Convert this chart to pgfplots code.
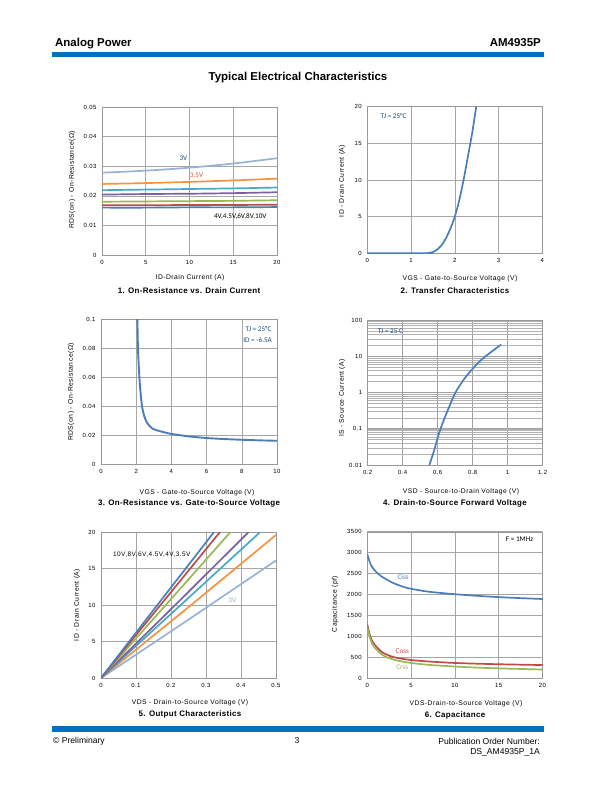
\documentclass[border=0pt]{standalone}
\usepackage{fontspec}
\setmainfont{Liberation Sans}
\newfontfamily\calfont{Carlito}
\newfontfamily\labfont{Liberation Sans}[LetterSpace=7]
\newfontfamily\titfont{Liberation Sans}[LetterSpace=4]
\usepackage{pgfplots}
\pgfplotsset{compat=1.18}
\definecolor{cblue}{HTML}{4A7EBB}
\definecolor{cred}{HTML}{BE4B48}
\definecolor{cgreen}{HTML}{98B954}
\definecolor{cpurple}{HTML}{7D60A0}
\definecolor{caqua}{HTML}{46AAC5}
\definecolor{corange}{HTML}{F69240}
\definecolor{clblue}{HTML}{95B3D7}
\definecolor{barblue}{HTML}{0070C0}
\definecolor{navy}{HTML}{1F497D}
\pgfplotsset{ds/.style={scale only axis, anchor=south west,
  axis line style={draw=gray!80}, grid=major,
  major grid style={draw=gray!70, line width=0.6pt},
  major tick length=0pt, minor tick length=0pt,
  tick label style={font=\labfont\fontsize{6}{7}\selectfont},
  xticklabel style={yshift=-1.5bp}, yticklabel style={xshift=-2bp},
  scaled ticks=false,
  /pgf/number format/assume math mode=true,
  /pgf/number format/1000 sep={},
  every axis plot/.append style={line width=1.7pt, no markers}}}
\newcommand\tlab{\labfont\fontsize{6.8}{8}\selectfont}
\newcommand\ttit{\titfont\bfseries\fontsize{8}{9}\selectfont}
\newcommand\ann{\calfont\fontsize{7.2}{8}\selectfont}
\begin{document}
\begin{tikzpicture}
\fill[white] (0,0) rectangle (612bp,-792bp);
% header
\node[anchor=base west, font=\bfseries\fontsize{11.5}{13}\selectfont, inner sep=0] at (55bp,-46bp) {Analog Power};
\node[anchor=base east, font=\bfseries\fontsize{11.5}{13}\selectfont, inner sep=0] at (541bp,-46bp) {AM4935P};
\fill[barblue] (52bp,-52bp) rectangle (544bp,-56.5bp);
\node[font=\bfseries\fontsize{11.5}{13}\selectfont] at (298bp,-78bp) {Typical Electrical Characteristics};
% footer
\fill[barblue] (52bp,-726bp) rectangle (544bp,-731.7bp);
\node[anchor=west, font=\fontsize{8.6}{10}\selectfont, inner sep=0] at (53bp,-741bp) {© Preliminary};
\node[font=\fontsize{8.6}{10}\selectfont, inner sep=0] at (297bp,-741bp) {3};
\node[anchor=east, font=\fontsize{8.6}{10}\selectfont, inner sep=0] at (540bp,-741bp) {Publication Order Number:};
\node[anchor=east, font=\fontsize{8.6}{10}\selectfont, inner sep=0] at (540bp,-752bp) {DS\_AM4935P\_1A};

% ---------- Chart 1
\begin{axis}[ds, at={(102bp,-255bp)}, width=175bp, height=148bp,
  xmin=0, xmax=20, ymin=0, ymax=0.05, xtick={0,5,10,15,20},
  ytick={0,0.01,0.02,0.03,0.04,0.05}, yticklabels={0,0.01,0.02,0.03,0.04,0.05}]
\addplot[clblue, smooth] coordinates {(0,0.0278)(5,0.0285)(10,0.0295)(15,0.0309)(20,0.0327)};
\addplot[corange, smooth] coordinates {(0,0.0240)(5,0.0243)(10,0.0247)(15,0.0252)(20,0.0258)};
\addplot[caqua, smooth] coordinates {(0,0.0219)(5,0.0221)(10,0.0223)(15,0.0225)(20,0.0228)};
\addplot[cpurple, smooth] coordinates {(0,0.0204)(5,0.0206)(10,0.0207)(15,0.0209)(20,0.0212)};
\addplot[cgreen, smooth] coordinates {(0,0.0180)(5,0.0181)(10,0.0182)(15,0.0183)(20,0.0185)};
\addplot[cred, smooth] coordinates {(0,0.0168)(5,0.0168)(10,0.0169)(15,0.0169)(20,0.0170)};
\addplot[cblue, smooth] coordinates {(0,0.0160)(5,0.0160)(10,0.0161)(15,0.0161)(20,0.0162)};
\node[font=\ann, text=navy] at (axis cs:9.3,0.0326) {3V};
\node[font=\ann, text=cred!70!corange] at (axis cs:10.8,0.0268) {3.5V};
\node[font=\ann, text=black] at (axis cs:15.8,0.0131) {4V,4.5V,6V,8V,10V};
\end{axis}
\node[rotate=90, font=\tlab] at (72bp,-180bp) {RDS(on) - On-Resistance(Ω)};
\node[font=\tlab] at (190bp,-278bp) {ID-Drain Current (A)};
\node[font=\ttit] at (189bp,-291bp) {1. On-Resistance vs. Drain Current};

% ---------- Chart 2
\begin{axis}[ds, at={(367.3bp,-253.5bp)}, width=175bp, height=147bp,
  xmin=0, xmax=4, ymin=0, ymax=20, xtick={0,1,2,3,4}, ytick={0,5,10,15,20}]
\addplot[cblue, smooth] coordinates {(0,0.05)(1.3,0.05)(1.4,0.08)(1.5,0.2)(1.6,0.55)(1.7,1.15)(1.8,2.1)(1.9,3.4)(2.0,5.0)(2.1,7.2)(2.2,10.0)(2.3,13.2)(2.4,16.5)(2.49,20)};
\node[font=\ann, text=navy] at (axis cs:0.6,18.7) {TJ = 25°C};
\end{axis}
\node[rotate=90, font=\tlab] at (342bp,-181bp) {ID - Drain Current (A)};
\node[font=\tlab] at (460bp,-279bp) {VGS - Gate-to-Source Voltage (V)};
\node[font=\ttit] at (455bp,-291bp) {2. Transfer Characteristics};

% ---------- Chart 3
\begin{axis}[ds, at={(101bp,-464.5bp)}, width=176bp, height=145.5bp,
  xmin=0, xmax=10, ymin=0, ymax=0.1, xtick={0,2,4,6,8,10},
  ytick={0,0.02,0.04,0.06,0.08,0.1}, yticklabels={0,0.02,0.04,0.06,0.08,0.1}]
\addplot[cblue, line width=1.9pt, smooth, tension=0.4] coordinates {(2.06,0.105)(2.1,0.08)(2.18,0.06)(2.25,0.049)(2.33,0.04)(2.45,0.0335)(2.6,0.029)(2.8,0.026)(3.0,0.0242)(3.5,0.0224)(4,0.0210)(5,0.0193)(6,0.0182)(7,0.0175)(8,0.0170)(9,0.0166)(10,0.0163)};
\node[font=\ann, text=navy] at (axis cs:8.95,0.093) {TJ = 25°C};
\node[font=\ann, text=navy] at (axis cs:8.9,0.0855) {ID = -6.5A};
\end{axis}
\node[rotate=90, font=\tlab] at (71bp,-392bp) {RDS(on) - On-Resistance(Ω)};
\node[font=\tlab] at (197bp,-493bp) {VGS - Gate-to-Source Voltage (V)};
\node[font=\ttit] at (189bp,-503bp) {3. On-Resistance vs. Gate-to-Source Voltage};

% ---------- Chart 4
\begin{axis}[ds, at={(367.6bp,-465bp)}, width=175bp, height=145bp,
  xmin=0.2, xmax=1.2, ymode=log, ymin=0.01, ymax=100,
  xtick={0.2,0.4,0.6,0.8,1,1.2}, xticklabels={0.2,0.4,0.6,0.8,1,1.2},
  ytick={0.01,0.1,1,10,100}, yticklabels={0.01,0.1,1,10,100},
  grid=both, minor grid style={draw=gray!60, line width=0.4pt},
  major grid style={draw=gray!75, line width=0.8pt}]
\addplot[cblue, smooth] coordinates {(0.553,0.01)(0.58,0.025)(0.6,0.055)(0.62,0.11)(0.65,0.26)(0.7,0.95)(0.75,2.3)(0.8,4.5)(0.85,8.0)(0.9,12.5)(0.963,21)};
\node[font=\ann, text=navy] at (axis cs:0.33,50) {TJ = 25 C};
\end{axis}
\node[rotate=90, font=\tlab] at (342bp,-398bp) {IS - Source Current (A)};
\node[font=\tlab] at (461bp,-492bp) {VSD - Source-to-Drain Voltage (V)};
\node[font=\ttit] at (455bp,-503bp) {4. Drain-to-Source Forward Voltage};

% ---------- Chart 5
\begin{axis}[ds, at={(101bp,-678bp)}, width=175bp, height=146bp,
  xmin=0, xmax=0.5, ymin=0, ymax=20, xtick={0,0.1,0.2,0.3,0.4,0.5},
  xticklabels={0,0.1,0.2,0.3,0.4,0.5}, ytick={0,5,10,15,20}]
\addplot[clblue] coordinates {(0,0)(0.25,8.0)(0.5,16.1)};
\addplot[corange] coordinates {(0,0)(0.25,9.7)(0.5,19.6)};
\addplot[caqua] coordinates {(0,0)(0.23,10.1)(0.455,20)};
\addplot[cpurple] coordinates {(0,0)(0.21,9.9)(0.422,20)};
\addplot[cgreen] coordinates {(0,0)(0.185,10)(0.37,20)};
\addplot[cred] coordinates {(0,0)(0.17,10)(0.34,20)};
\addplot[cblue] coordinates {(0,0)(0.161,10)(0.323,20)};
\node[font=\labfont\fontsize{6.5}{7}\selectfont, anchor=west, inner sep=0] at (axis cs:0.034,16.9) {10V,8V,6V,4.5V,4V,3.5V};
\node[font=\ann, text=clblue] at (axis cs:0.375,10.7) {3V};
\end{axis}
\node[rotate=90, font=\tlab] at (77bp,-605bp) {ID - Drain Current (A)};
\node[font=\tlab] at (190bp,-703bp) {VDS - Drain-to-Source Voltage (V)};
\node[font=\ttit] at (190bp,-714bp) {5. Output Characteristics};

% ---------- Chart 6
\begin{axis}[ds, at={(367.3bp,-678bp)}, width=175bp, height=146.3bp,
  xmin=0, xmax=20, ymin=0, ymax=3500, xtick={0,5,10,15,20},
  ytick={0,500,1000,1500,2000,2500,3000,3500}]
\addplot[cblue, smooth] coordinates {(0,2960)(0.3,2760)(0.6,2640)(1,2540)(1.5,2450)(2,2380)(3,2270)(4,2190)(5,2135)(7,2065)(10,2005)(13,1960)(16,1925)(20,1890)};
\addplot[cred, smooth] coordinates {(0,1280)(0.3,1020)(0.6,870)(1,760)(1.5,650)(2,580)(3,500)(4,460)(5,430)(7,395)(10,360)(13,340)(16,325)(20,310)};
\addplot[cgreen, smooth] coordinates {(0,1220)(0.3,960)(0.6,800)(1,690)(1.5,590)(2,520)(3,440)(4,395)(5,360)(7,315)(10,275)(13,245)(16,225)(20,203)};
\node[font=\ann, text=cblue] at (axis cs:4.1,2410) {Ciss};
\node[font=\ann, text=cred] at (axis cs:4.0,640) {Coss};
\node[font=\ann, text=cgreen] at (axis cs:4.0,255) {Crss};
\node[font=\ann] at (axis cs:17.4,3325) {F = 1MHz};
\end{axis}
\node[rotate=90, font=\tlab] at (335bp,-604bp) {Capacitance (pf)};
\node[font=\tlab] at (466bp,-704bp) {VDS-Drain-to-Source Voltage (V)};
\node[font=\ttit] at (455bp,-715bp) {6. Capacitance};
\end{tikzpicture}
\end{document}
